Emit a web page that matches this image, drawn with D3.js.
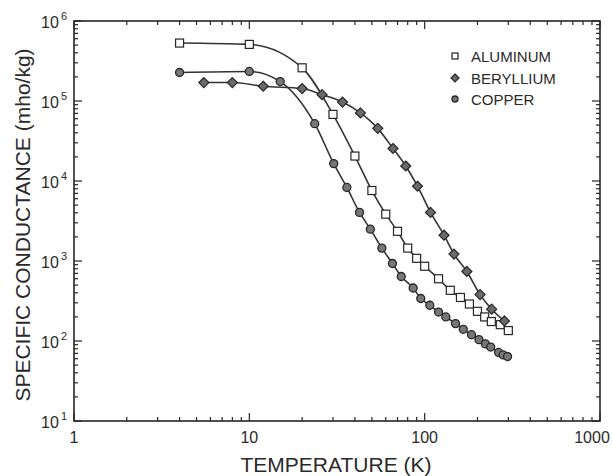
<!DOCTYPE html>
<html><head><meta charset="utf-8">
<script src="https://cdn.jsdelivr.net/npm/d3@7"></script>
<style>
html,body{margin:0;padding:0;background:#fff;}
svg text{font-family:"Liberation Sans",Arial,Helvetica,sans-serif;fill:#2a2a2a;}
</style></head>
<body><svg id="chart" width="613" height="476"></svg>
<script>
// ---- data ----
const seriesNames = ["ALUMINUM", "BERYLLIUM", "COPPER"];
const alT = [4, 10, 20, 30, 40, 50, 60, 70, 80, 90, 100, 120, 140, 160, 180, 200, 220, 240, 270, 300];
const alC = [5.3e5, 5.1e5, 2.6e5, 6.8e4, 2.05e4, 7.6e3, 3.85e3, 2.35e3, 1.45e3, 1.08e3, 860, 600, 430, 350, 290, 235, 200, 175, 160, 135];
const beT = [5.5, 8, 12, 20, 26, 34, 43, 54, 66, 78, 91, 108, 129, 147, 174, 207, 241, 285];
const beC = [1.7e5, 1.7e5, 1.53e5, 1.43e5, 1.2e5, 9.7e4, 7.1e4, 4.55e4, 2.55e4, 1.54e4, 8.6e3, 4.05e3, 2.1e3, 1.22e3, 740, 380, 250, 178];
const cuT = [4, 10, 15, 23.6, 30.3, 36, 42.5, 49, 57, 65.5, 73.5, 86, 95, 107, 120, 132, 150, 166, 185, 204, 222, 238, 264, 280, 297];
const cuC = [2.27e5, 2.34e5, 1.75e5, 5.2e4, 1.65e4, 8.3e3, 4.05e3, 2.5e3, 1.45e3, 930, 640, 460, 340, 280, 230, 200, 165, 140, 120, 104, 92, 84, 72, 67, 64];
const xTickValues = [1, 10, 100, 1000];
const xTickLabels = ["1", "10", "100", "1000"];
const yTickExponents = [1, 2, 3, 4, 5, 6];
const xTitle = "TEMPERATURE (K)";
const yTitle = "SPECIFIC CONDUCTANCE (mho/kg)";

// ---- layout ----
const L = 74, R = 600, T = 21, B = 421;
const svg = d3.select("#chart");
const x = d3.scaleLog().domain([1, 1000]).range([L, R]);
const y = d3.scaleLog().domain([10, 1e6]).range([B, T]);
const ink = "#262626";

const xMinor = [], yMinor = [];
for (let d = 1; d < 1000; d *= 10) for (let k = 2; k <= 9; k++) xMinor.push(d * k);
for (let d = 10; d < 1e6; d *= 10) for (let k = 2; k <= 9; k++) yMinor.push(d * k);
const yMajor = yTickExponents.map(e => Math.pow(10, e));

const g = svg.append("g");
g.append("rect").attr("x", L).attr("y", T).attr("width", R - L).attr("height", B - T)
  .attr("fill", "none").attr("stroke", ink).attr("stroke-width", 1.6);

function tickSet(vals, len) {
  vals.forEach(v => {
    const px = x(v);
    g.append("line").attr("x1", px).attr("x2", px).attr("y1", B).attr("y2", B - len).attr("stroke", ink).attr("stroke-width", 1.2);
    g.append("line").attr("x1", px).attr("x2", px).attr("y1", T).attr("y2", T + len).attr("stroke", ink).attr("stroke-width", 1.2);
  });
}
tickSet(xTickValues, 8);
tickSet(xMinor, 4);
function ytickSet(vals, len) {
  vals.forEach(v => {
    const py = y(v);
    g.append("line").attr("x1", L).attr("x2", L + len).attr("y1", py).attr("y2", py).attr("stroke", ink).attr("stroke-width", 1.2);
    g.append("line").attr("x1", R).attr("x2", R - len).attr("y1", py).attr("y2", py).attr("stroke", ink).attr("stroke-width", 1.2);
  });
}
ytickSet(yMajor, 8);
ytickSet(yMinor, 4);

// x tick labels (last one nudged inward so it stays on the page)
xTickValues.forEach((v, i) => {
  const shift = i === xTickValues.length - 1 ? -8 : 0;
  g.append("text").attr("x", x(v) + shift).attr("y", 443).attr("text-anchor", "middle")
    .attr("font-size", 16).text(xTickLabels[i]);
});
yTickExponents.forEach(e => {
  const t = g.append("text").attr("x", 67).attr("y", y(Math.pow(10, e)) + 7).attr("text-anchor", "end").attr("font-size", 16);
  t.append("tspan").text("10");
  t.append("tspan").attr("dy", -8).attr("dx", 2).attr("font-size", 11).text(String(e));
});

g.append("text").attr("x", 336).attr("y", 472).attr("text-anchor", "middle").attr("font-size", 21).text(xTitle);
g.append("text").attr("transform", `translate(30,${(T + B) / 2 + 4}) rotate(-90)`).attr("text-anchor", "middle")
  .attr("font-size", 21).text(yTitle);

const series = [
  {name: seriesNames[0], T: alT, C: alC, shape: "square"},
  {name: seriesNames[1], T: beT, C: beC, shape: "diamond"},
  {name: seriesNames[2], T: cuT, C: cuC, shape: "circle"}
];
const line = d3.line().x(d => x(d[0])).y(d => y(d[1])).curve(d3.curveMonotoneX);

function marker(sel, shape, size) {
  if (shape === "square") {
    sel.append("rect").attr("x", -size / 2).attr("y", -size / 2).attr("width", size).attr("height", size)
      .attr("fill", "#fff").attr("stroke", ink).attr("stroke-width", 1.2);
  } else if (shape === "diamond") {
    const s = size / 2 + 1;
    sel.append("path").attr("d", `M0,${-s}L${s},0L0,${s}L${-s},0Z`).attr("fill", "#6a6a6a").attr("stroke", ink).attr("stroke-width", 1.2);
  } else {
    sel.append("circle").attr("r", size / 2).attr("fill", "#777").attr("stroke", ink).attr("stroke-width", 1.3);
  }
}

series.forEach(s => {
  const pts = s.T.map((t, i) => [t, s.C[i]]);
  g.append("path").attr("d", line(pts)).attr("fill", "none").attr("stroke", "#333").attr("stroke-width", 1.6);
});
series.forEach(s => {
  const pts = s.T.map((t, i) => [t, s.C[i]]);
  g.append("g").selectAll("g").data(pts).join("g")
    .attr("transform", d => `translate(${x(d[0])},${y(d[1])})`)
    .each(function () { marker(d3.select(this), s.shape, 8); });
});

const legY = [56, 78, 99];
series.forEach((s, i) => {
  const lg = g.append("g").attr("transform", `translate(455,${legY[i]})`);
  marker(lg, s.shape, 6);
  g.append("text").attr("x", 471).attr("y", legY[i] + 5.5).attr("font-size", 15).text(s.name);
});
</script></body></html>
